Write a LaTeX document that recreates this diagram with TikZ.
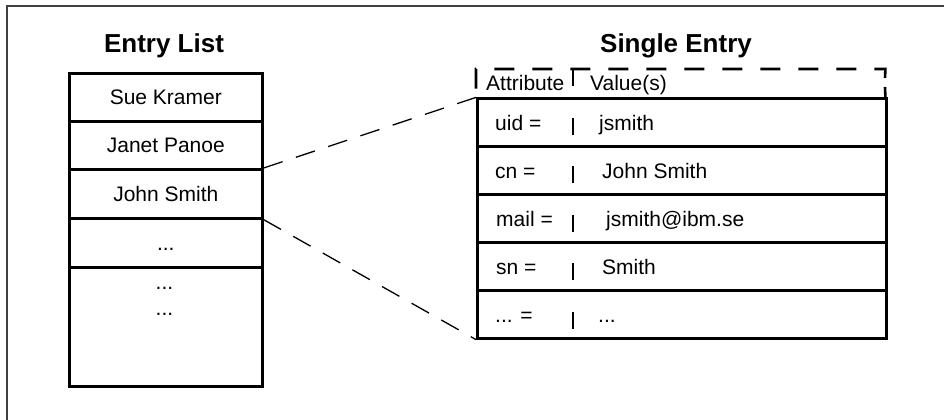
\documentclass[tikz,border=0pt]{standalone}
\usepackage{fontspec}
\setmainfont{Liberation Sans}
\begin{document}
\begin{tikzpicture}[x=1bp,y=-1bp,
  txt/.style={inner sep=0pt, anchor=base west, font=\fontsize{21bp}{25bp}\selectfont},
  ttl/.style={inner sep=0pt, anchor=base, font=\bfseries\fontsize{26bp}{30bp}\selectfont},
  lcell/.style={draw, line width=2.6bp, inner sep=0pt, anchor=north west,
    minimum width=193bp, text height=15bp, text depth=0pt,
    font=\fontsize{21bp}{25bp}\selectfont},
  rcell/.style={draw, line width=2.6bp, inner sep=0pt, anchor=north west,
    minimum width=409bp, minimum height=48bp},
  hdrbox/.style={inner sep=0pt, anchor=north west, minimum width=409bp, minimum height=28bp},
  hdrdash/.style={line width=2.6bp, dash pattern=on 20bp off 18bp},
  divdash/.style={line width=2.6bp, dash pattern=on 17bp off 31.5bp},
  conn/.style={line width=1.3bp, dash pattern=on 20bp off 14bp},
  frame/.style={line width=1.2bp, draw=black!75}
]
\useasboundingbox (0,0) rectangle (944,419);
% outer frame
\coordinate (fa) at (7,440);
\coordinate (fb) at (7,6);
\coordinate (fc) at (960,6);
\draw[frame] (fa) -- (fb) -- (fc);

% titles
\node[ttl] (tl) at (164,52.5) {Entry List};
\node[ttl] (tr) at (676,52.5) {Single Entry};

% entry list
\node[lcell, minimum height=48bp] (sue) at (68,72) {Sue Kramer};
\node[lcell, minimum height=48bp] (janet) at (68,120) {Janet Panoe};
\node[lcell, minimum height=49bp] (john) at (68,168) {John Smith};
\node[lcell, minimum height=49bp] (dots) at (68,217) {...};
\node[lcell, minimum height=119bp] (more) at (68,266) {};
\node[txt, anchor=base] (m1) at (164.5,289) {...};
\node[txt, anchor=base] (m2) at (164.5,315) {...};

% single entry table
\node[hdrbox] (hdr) at (476,69) {};
\node[rcell] (r1) at (476,97) {};
\node[rcell] (r2) at (476,145) {};
\node[rcell] (r3) at (476,193) {};
\node[rcell] (r4) at (476,241) {};
\node[rcell] (r5) at (476,289) {};
\coordinate (hre) at (885,78);
\coordinate (hrs) at (885,87);
\draw[hdrdash] (hre) -- (hdr.north east) -- (hdr.north west) -- (hdr.south west);
\draw[line width=2.6bp] (hrs) -- (hdr.south east);
\coordinate (colt) at (573,69);
\coordinate (colb) at (573,337);
\draw[divdash] (colt) -- (colb);

\node[txt] (ha) at (486,90) {Attribute};
\node[txt] (hv) at (590,90) {Value(s)};
\node[txt] (k1) at (495,130) {uid =};
\node[txt] (v1) at (599,130) {jsmith};
\node[txt] (k2) at (495,178) {cn =};
\node[txt] (v2) at (602,178) {John Smith};
\node[txt] (k3) at (496,226) {mail =};
\node[txt] (v3) at (606,226) {jsmith@ibm.se};
\node[txt] (k4) at (496,274) {sn =};
\node[txt] (v4) at (602,274) {Smith};
\node[txt] (k5) at (495,322) {... =};
\node[txt] (v5) at (598,322) {...};

% connectors
\draw[conn] (john.north east) -- (hdr.south west);
\draw[conn] (john.south east) -- (r5.south west);
\end{tikzpicture}
\end{document}
